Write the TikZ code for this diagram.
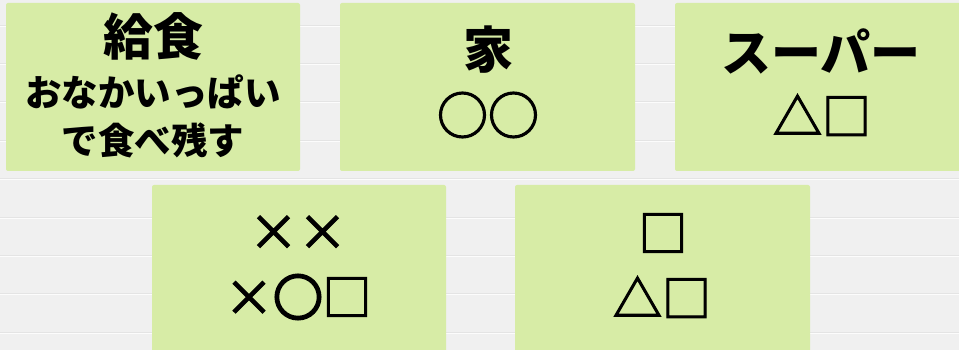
\documentclass[tikz,border=0pt]{standalone}
\usepackage{fontspec}
\newfontfamily\jp{Noto Sans CJK JP}
\newfontfamily\jpshape{Noto Sans CJK JP}[FakeBold=2.5]
\newfontfamily\jpthick{Noto Sans CJK JP}[FakeBold=6]
\definecolor{bg}{RGB}{240,240,240}
\definecolor{boxgreen}{RGB}{215,236,166}
\definecolor{brickline}{RGB}{228,228,228}
\tikzset{
  card/.style={fill=boxgreen, draw=none, rounded corners=2pt},
  big/.style={font=\jp\bfseries\fontsize{50}{50}\selectfont, inner sep=0pt, anchor=center},
  mid/.style={font=\jp\bfseries\fontsize{36.5}{36.5}\selectfont, inner sep=0pt, anchor=center},
  shp/.style={font=\jpshape\fontsize{49}{49}\selectfont, inner sep=0pt, anchor=center},
}
\begin{document}
\begin{tikzpicture}[x=1pt,y=-1pt]
\useasboundingbox (0,0) rectangle (959,350);
\fill[bg] (0,0) rectangle (959,350);
\foreach \yy in {25,63,101,140,178,217,255,293,332}{
  \draw[brickline, line width=0.8pt] (0,\yy) -- (959,\yy);
  \draw[white!80!bg, line width=0.8pt] (0,\yy+1.2) -- (959,\yy+1.2);
}
% cards
\path[card] (6,3) rectangle (300,171);
\path[card] (340,3) rectangle (635,171);
\path[card] (675,3) rectangle (975,171);
\path[card] (152,185) rectangle (446,360);
\path[card] (515,185) rectangle (810,360);
% texts
\node[big] (k1) at (153,36) {給食};
\node[mid] (k2) at (153,92) {おなかいっぱい};
\node[mid] (k3) at (153,140) {で食べ残す};
\node[big] (h1) at (488,50) {家};
\node[shp, font=\jpshape\fontsize{51}{51}\selectfont] (h2) at (488,115) {○○};
\node[big] (s1) at (821,51) {スーパー};
\node[shp] (s2) at (822,115) {△□};
\node[shp] (b1) at (298,233) {××};
\node[shp] (b2) at (298,297) {×{\jpthick ○}□};
\node[shp] (c1) at (663,233) {□};
\node[shp] (c2) at (662,297) {△□};
\end{tikzpicture}
\end{document}
